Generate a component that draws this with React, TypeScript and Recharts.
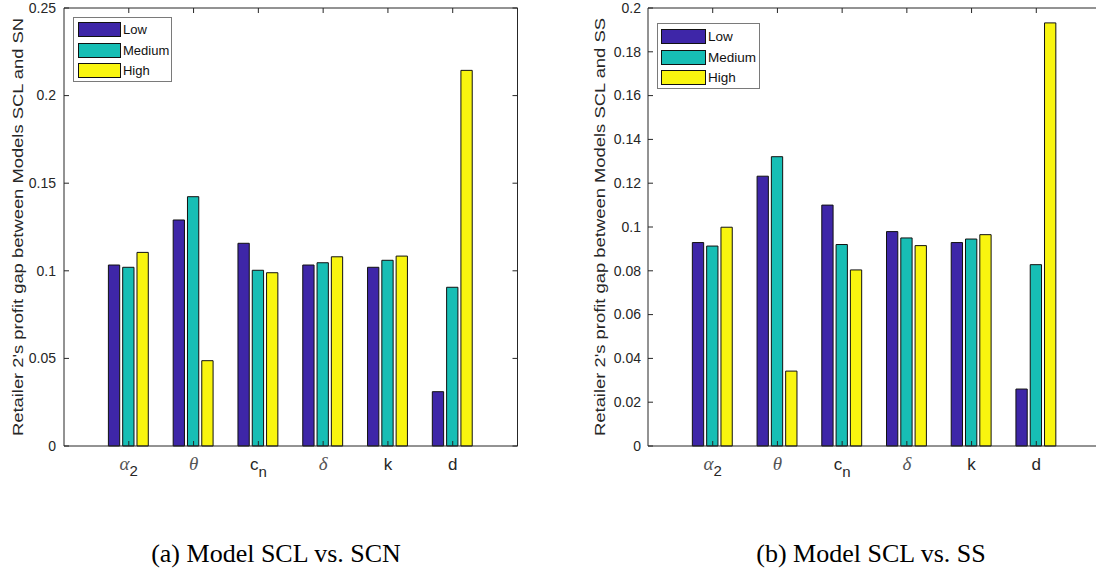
import React from 'react';
import { BarChart, Bar, XAxis, YAxis, Legend } from 'recharts';

// ---------- data ----------
const categories = ['α2', 'θ', 'cn', 'δ', 'k', 'd'];
const seriesNames = ['Low', 'Medium', 'High'];

const lowA = [0.1033, 0.129, 0.1157, 0.1033, 0.102, 0.031];
const mediumA = [0.102, 0.1423, 0.1003, 0.1046, 0.106, 0.0906];
const highA = [0.1105, 0.0487, 0.0989, 0.108, 0.1084, 0.2144];

const lowB = [0.0929, 0.1232, 0.11, 0.0979, 0.0929, 0.026];
const mediumB = [0.0913, 0.1321, 0.092, 0.095, 0.0945, 0.0828];
const highB = [0.0999, 0.0342, 0.0804, 0.0915, 0.0965, 0.1932];

const ticksA = [0, 0.05, 0.1, 0.15, 0.2, 0.25];
const ticksB = [0, 0.02, 0.04, 0.06, 0.08, 0.1, 0.12, 0.14, 0.16, 0.18, 0.2];

const yLabelA = "Retailer 2's profit gap between Models SCL and SN";
const yLabelB = "Retailer 2's profit gap between Models SCL and SS";
const captionA = '(a) Model SCL vs. SCN';
const captionB = '(b) Model SCL vs. SS';

// ---------- styles ----------
const COLORS = ['#3E26A8', '#17BEB5', '#F9F50F'];
const AXIS = '#262626';
const SANS = '"Liberation Sans", Arial, Helvetica, sans-serif';
const SERIF = '"Liberation Serif", "Times New Roman", serif';

const buildData = (low: number[], med: number[], high: number[]) =>
  categories.map((c, i) => ({ cat: c, low: low[i], medium: med[i], high: high[i] }));

const dataA = buildData(lowA, mediumA, highA);
const dataB = buildData(lowB, mediumB, highB);

type PanelCfg = {
  data: any[];
  ticks: number[];
  yLabel: string;
  width: number;
  axisWidth: number;
  marginRight: number;
  plotTop: number;
  plotBottom: number;
  tickMargin: number;
  labelX: number;
  legend: { left: number; top: number; w: number; h: number; swL: number; swW: number; swTops: number[]; textL: number; fs: number };
};

const makeYTick = (plotLeft: number, plotRight: number, plotTop: number, plotBottom: number, max: number, tickMargin: number) => (props: any) => {
  const { x, y, payload } = props;
  const ax = x + tickMargin;
  const isTop = payload.value === max;
  return (
    <g>
      {isTop && (
        <>
          <line x1={plotLeft} x2={plotRight} y1={plotTop} y2={plotTop} stroke={AXIS} strokeWidth={1} />
          <line x1={plotRight} x2={plotRight} y1={plotTop} y2={plotBottom} stroke={AXIS} strokeWidth={1} />
        </>
      )}
      <line x1={ax} x2={ax + 5} y1={y} y2={y} stroke={AXIS} strokeWidth={1} />
      <line x1={plotRight - 5} x2={plotRight} y1={y} y2={y} stroke={AXIS} strokeWidth={1} />
      <text x={x} y={y} dy={4.8} textAnchor="end" fontSize={14} fill={AXIS} fontFamily={SANS}>
        {String(payload.value)}
      </text>
    </g>
  );
};

const makeXTick = (plotTop: number) => (props: any) => {
  const { x, y, payload } = props;
  const v: string = payload.value;
  const base = y + 24;
  let content: React.ReactNode;
  if (v === 'α2') {
    content = (
      <text x={x} y={base} textAnchor="middle" fill={AXIS}>
        <tspan fontFamily={SERIF} fontStyle="italic" fontSize={19} fill="#555">α</tspan>
        <tspan fontFamily={SANS} fontSize={15} dy={6}>2</tspan>
      </text>
    );
  } else if (v === 'cn') {
    content = (
      <text x={x} y={base} textAnchor="middle" fill={AXIS}>
        <tspan fontFamily={SANS} fontSize={17}>c</tspan>
        <tspan fontFamily={SANS} fontSize={15} dy={7}>n</tspan>
      </text>
    );
  } else if (v === 'θ' || v === 'δ') {
    content = (
      <text x={x} y={base} textAnchor="middle" fill="#555" fontFamily={SERIF} fontStyle="italic" fontSize={19}>
        {v}
      </text>
    );
  } else {
    content = (
      <text x={x} y={base} textAnchor="middle" fill={AXIS} fontFamily={SANS} fontSize={17}>
        {v}
      </text>
    );
  }
  return (
    <g>
      <line x1={x} x2={x} y1={y} y2={y - 5} stroke={AXIS} strokeWidth={1} />
      <line x1={x} x2={x} y1={plotTop} y2={plotTop + 5} stroke={AXIS} strokeWidth={1} />
      {content}
    </g>
  );
};

const makeLegend = (cfg: PanelCfg['legend']) => (props: any) => {
  const raw: any[] = props.payload || [];
  const payload = seriesNames
    .map((n) => raw.find((p) => p.value === n))
    .filter(Boolean) as any[];
  return (
    <div
      style={{
        position: 'relative',
        width: cfg.w,
        height: cfg.h,
        border: '1px solid #7a7a7a',
        background: '#fff',
        boxSizing: 'border-box',
      }}
    >
      {payload.map((p, i) => (
        <React.Fragment key={i}>
          <div
            style={{
              position: 'absolute',
              left: cfg.swL,
              top: cfg.swTops[i],
              width: cfg.swW,
              height: 15,
              background: p.color,
              border: '1px solid #111',
              boxSizing: 'border-box',
            }}
          />
          <div
            style={{
              position: 'absolute',
              left: cfg.textL,
              top: cfg.swTops[i] - 1,
              fontFamily: SANS,
              fontSize: cfg.fs,
              lineHeight: '17px',
              color: '#111',
              whiteSpace: 'nowrap',
            }}
          >
            {p.value}
          </div>
        </React.Fragment>
      ))}
    </div>
  );
};

const Panel = ({ cfg }: { cfg: PanelCfg }) => {
  const H = 480;
  const plotLeft = cfg.axisWidth;
  const plotRight = cfg.width - cfg.marginRight;
  const plotW = plotRight - plotLeft;
  const band = plotW / 7;
  const max = cfg.ticks[cfg.ticks.length - 1];
  const plotH = cfg.plotBottom - cfg.plotTop;
  return (
    <BarChart
      width={cfg.width}
      height={H}
      data={cfg.data}
      margin={{ top: cfg.plotTop, right: cfg.marginRight, left: 0, bottom: 0 }}
      barSize={11.3}
      barGap={3}
    >
      <XAxis
        dataKey="cat"
        type="category"
        height={H - cfg.plotBottom}
        padding={{ left: band / 2, right: band / 2 }}
        tickSize={0}
        tickMargin={0}
        tickLine={false}
        axisLine={{ stroke: AXIS, strokeWidth: 1 }}
        tick={makeXTick(cfg.plotTop)}
        interval={0}
      />
      <YAxis
        type="number"
        domain={[0, max]}
        ticks={cfg.ticks}
        width={cfg.axisWidth}
        tickSize={0}
        tickMargin={cfg.tickMargin}
        tickLine={false}
        axisLine={{ stroke: AXIS, strokeWidth: 1 }}
        tick={makeYTick(plotLeft, plotRight, cfg.plotTop, cfg.plotBottom, max, cfg.tickMargin)}
        interval={0}
        label={{
          content: () => (
            <text
              transform={`translate(${cfg.labelX}, ${cfg.plotTop + plotH / 2}) rotate(-90)`}
              textAnchor="middle"
              dy={5}
              fontFamily={SANS}
              fontSize={15}
              fill={AXIS}
              textLength={418}
              lengthAdjust="spacingAndGlyphs"
            >
              {cfg.yLabel}
            </text>
          ),
        }}
      />
      <Legend
        layout="horizontal"
        verticalAlign="middle"
        align="center"
        content={makeLegend(cfg.legend)}
        wrapperStyle={{ left: cfg.legend.left, top: cfg.legend.top, width: cfg.legend.w, height: cfg.legend.h, margin: 0, padding: 0 }}
      />
      <Bar dataKey="low" name={seriesNames[0]} fill={COLORS[0]} stroke="#111" strokeWidth={1} isAnimationActive={false} />
      <Bar dataKey="medium" name={seriesNames[1]} fill={COLORS[1]} stroke="#111" strokeWidth={1} isAnimationActive={false} />
      <Bar dataKey="high" name={seriesNames[2]} fill={COLORS[2]} stroke="#111" strokeWidth={1} isAnimationActive={false} />
    </BarChart>
  );
};

const cfgA: PanelCfg = {
  data: dataA,
  ticks: ticksA,
  yLabel: yLabelA,
  width: 540,
  axisWidth: 64,
  marginRight: 22.5,
  plotTop: 8,
  plotBottom: 446,
  tickMargin: 8,
  labelX: 17.5,
  legend: { left: 73.3, top: 16.7, w: 98.4, h: 65.3, swL: 4, swW: 43, swTops: [4.3, 25, 45.3], textL: 48.7, fs: 13 },
};

const cfgB: PanelCfg = {
  data: dataB,
  ticks: ticksB,
  yLabel: yLabelB,
  width: 560,
  axisWidth: 103,
  marginRight: 4,
  plotTop: 8,
  plotBottom: 446,
  tickMargin: 7,
  labelX: 54.5,
  legend: { left: 111.7, top: 23.3, w: 103.3, h: 66, swL: 3.3, swW: 45, swTops: [5, 25.4, 45.7], textL: 50.3, fs: 13.5 },
};

export default function App() {
  return (
    <div
      style={{
        position: 'absolute',
        left: 0,
        top: 0,
        width: 1096,
        height: 576,
        overflow: 'hidden',
        background: '#fff',
      }}
    >
      <div style={{ position: 'absolute', left: 0, top: 0 }}>
        <Panel cfg={cfgA} />
      </div>
      <div style={{ position: 'absolute', left: 545, top: 0 }}>
        <Panel cfg={cfgB} />
      </div>
      <svg width={1096} height={576} style={{ position: 'absolute', left: 0, top: 0, pointerEvents: 'none' }}>
        <text x={276} y={562} textAnchor="middle" fontFamily={SERIF} fontSize={26} fill="#000">
          {captionA}
        </text>
        <text x={871} y={562} textAnchor="middle" fontFamily={SERIF} fontSize={26} fill="#000">
          {captionB}
        </text>
      </svg>
    </div>
  );
}
